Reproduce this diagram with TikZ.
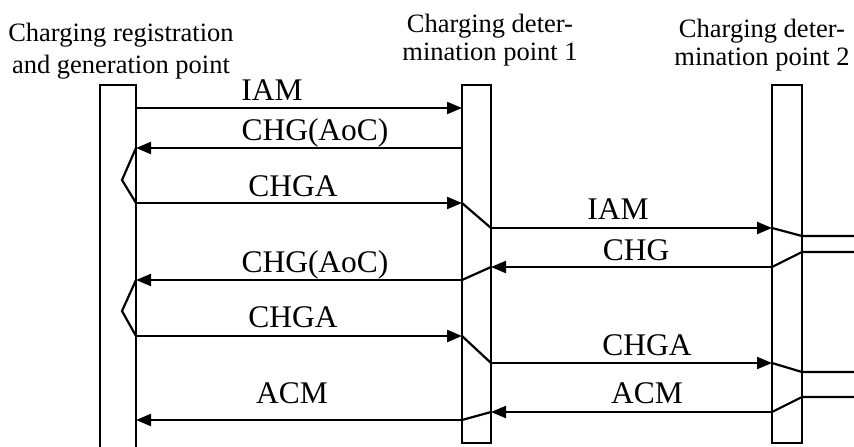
\documentclass[tikz,border=0pt]{standalone}
\usepackage{fontspec}
\setmainfont{Liberation Serif}
\usetikzlibrary{arrows.meta}
\begin{document}
\begin{tikzpicture}[x=1pt,y=-1pt,line width=2.2pt,line join=miter,
  msg/.style={-{Triangle[length=15pt,width=12pt]}},
  lbl/.style={font=\fontsize{31.5}{31.5}\selectfont,anchor=base,inner sep=0pt},
  ttl/.style={font=\fontsize{26.5}{28.5}\selectfont,align=center,inner sep=0pt}]
\useasboundingbox (0,0) rectangle (854,447);
% titles
\node[ttl,font=\fontsize{26.5}{31.5}\selectfont] (t1) at (121,51) {Charging registration\\and generation point};
\node[ttl] (t2) at (490,40) {Charging deter-\\mination point 1};
\node[ttl] (t3) at (762,45) {Charging deter-\\mination point 2};
% lifelines
\draw (100,447) -- (100,85) -- (136,85) -- (136,447);
\draw (462,85) rectangle (491,443);
\draw (772,85) rectangle (802,443);
% points
\coordinate (L1) at (136,108); \coordinate (M1) at (462,108);
\coordinate (M2) at (462,148); \coordinate (L2) at (136,148);
\coordinate (Z1) at (122,180); \coordinate (L3) at (136,203);
\coordinate (M3) at (462,203); \coordinate (M3b) at (491,228);
\coordinate (R1) at (772,228); \coordinate (R1b) at (802,236); \coordinate (E1) at (854,236);
\coordinate (E2) at (854,252); \coordinate (R2b) at (802,252); \coordinate (R2) at (772,267);
\coordinate (M4b) at (491,267); \coordinate (M4) at (462,280); \coordinate (L4) at (136,280);
\coordinate (Z2) at (122,311); \coordinate (L5) at (136,336);
\coordinate (M5) at (462,336); \coordinate (M5b) at (491,363);
\coordinate (R3) at (772,363); \coordinate (R3b) at (802,372); \coordinate (E3) at (854,372);
\coordinate (E4) at (854,397); \coordinate (R4b) at (802,397); \coordinate (R4) at (772,412);
\coordinate (M6b) at (491,412); \coordinate (M6) at (462,420); \coordinate (L6) at (136,420);
% messages
\draw[msg] (L1) -- (M1);
\draw[msg] (M2) -- (L2);
\draw (L2) -- (Z1) -- (L3);
\draw[msg] (L3) -- (M3);
\draw (M3) -- (M3b);
\draw[msg] (M3b) -- (R1);
\draw (R1) -- (R1b) -- (E1);
\draw (E2) -- (R2b) -- (R2);
\draw[msg] (R2) -- (M4b);
\draw (M4b) -- (M4);
\draw[msg] (M4) -- (L4);
\draw (L4) -- (Z2) -- (L5);
\draw[msg] (L5) -- (M5);
\draw (M5) -- (M5b);
\draw[msg] (M5b) -- (R3);
\draw (R3) -- (R3b) -- (E3);
\draw (E4) -- (R4b) -- (R4);
\draw[msg] (R4) -- (M6b);
\draw (M6b) -- (M6);
\draw[msg] (M6) -- (L6);
% labels
\node[lbl] (a1) at (272,100) {IAM};
\node[lbl] (a2) at (315,140) {CHG(AoC)};
\node[lbl] (a3) at (293,196) {CHGA};
\node[lbl] (a4) at (618,219) {IAM};
\node[lbl] (a5) at (636,260) {CHG};
\node[lbl] (a6) at (315,272) {CHG(AoC)};
\node[lbl] (a7) at (293,327) {CHGA};
\node[lbl] (a8) at (647,355) {CHGA};
\node[lbl] (a9) at (292,403) {ACM};
\node[lbl] (a10) at (647,403) {ACM};
\end{tikzpicture}
\end{document}
